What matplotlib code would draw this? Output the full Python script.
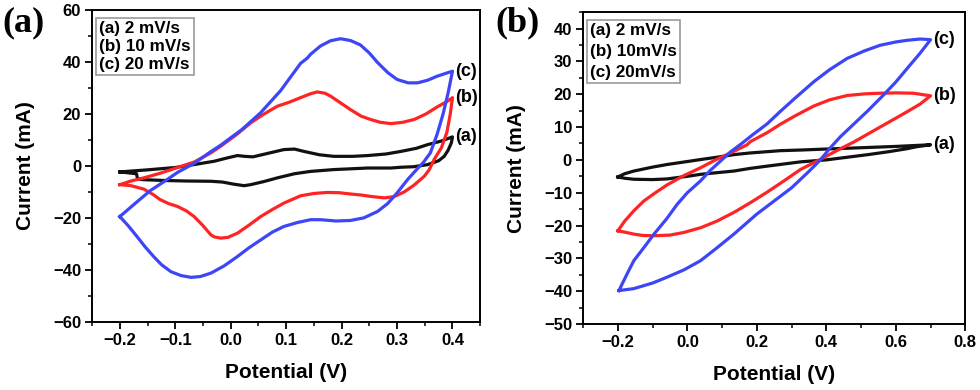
import matplotlib.pyplot as plt
from matplotlib.ticker import MultipleLocator

# ---- panel (a): CV at 2, 10, 20 mV/s ----
a_x_2 = [-0.2, -0.15, -0.1, -0.067, -0.03, -0.006, 0.012, 0.025, 0.04, 0.07, 0.096, 0.115, 0.132,
         0.16, 0.186, 0.22, 0.247, 0.28, 0.307, 0.335, 0.355, 0.38, 0.4,
         0.398, 0.392, 0.385, 0.375, 0.355, 0.33, 0.307, 0.289, 0.247, 0.186, 0.144, 0.115, 0.084,
         0.06, 0.036, 0.024, 0.005, -0.015, -0.036, -0.08, -0.12, -0.157, -0.168, -0.17, -0.2]
a_y_2 = [-2.3, -1.5, -0.6, 0.5, 1.8, 3.1, 4.0, 3.7, 3.5, 5.0, 6.3, 6.5, 5.6,
         4.3, 3.7, 3.7, 4.0, 4.6, 5.6, 6.8, 8.2, 9.6, 11.2,
         8.9, 6.0, 3.7, 2.0, 0.5, -0.3, -0.5, -0.8, -0.8, -1.4, -2.1, -3.0, -4.6,
         -6.0, -7.2, -7.6, -7.0, -6.2, -5.9, -5.8, -5.6, -5.3, -5.0, -3.0, -2.3]

a_x_10 = [-0.2, -0.18, -0.157, -0.127, -0.096, -0.066, -0.036, -0.018, 0.01, 0.036, 0.06, 0.084,
          0.105, 0.126, 0.144, 0.156, 0.17, 0.18, 0.2, 0.216, 0.235, 0.252, 0.27, 0.289, 0.31,
          0.331, 0.352, 0.373, 0.39, 0.4,
          0.396, 0.39, 0.38, 0.367, 0.358, 0.349, 0.33, 0.313, 0.295, 0.277, 0.255, 0.235, 0.216,
          0.195, 0.174, 0.15, 0.126, 0.096, 0.075, 0.054, 0.033, 0.012, -0.005, -0.018, -0.03,
          -0.036, -0.05, -0.066, -0.08, -0.096, -0.112, -0.127, -0.14, -0.157, -0.18, -0.2]
a_y_10 = [-7.2, -5.8, -4.6, -2.8, -0.6, 1.5, 5.0, 7.6, 12.0, 16.6, 20.0, 23.0,
          24.5, 26.3, 27.8, 28.5, 28.0, 26.9, 24.0, 21.7, 19.2, 17.9, 16.8, 16.3, 16.8,
          17.9, 20.0, 22.8, 24.8, 26.3,
          20.0, 13.0, 7.0, 2.5, -1.5, -4.0, -7.5, -10.0, -11.8, -12.3, -11.8, -11.2, -10.8,
          -10.3, -10.2, -10.6, -11.5, -14.3, -16.8, -19.5, -22.8, -25.9, -27.5, -27.8, -27.3,
          -26.5, -23.0, -19.5, -17.3, -15.6, -14.5, -13.0, -11.0, -8.9, -7.6, -7.2]

a_x_20 = [-0.2, -0.17, -0.145, -0.12, -0.096, -0.066, -0.036, -0.018, 0.02, 0.054, 0.09, 0.126,
          0.138, 0.144, 0.162, 0.18, 0.198, 0.216, 0.234, 0.25, 0.265, 0.283, 0.3, 0.32, 0.337,
          0.355, 0.373, 0.4,
          0.392, 0.383, 0.372, 0.36, 0.348, 0.337, 0.32, 0.3, 0.283, 0.265, 0.24, 0.216, 0.19,
          0.162, 0.144, 0.12, 0.096, 0.075, 0.054, 0.033, 0.012, -0.012, -0.036, -0.055, -0.072,
          -0.09, -0.108, -0.125, -0.139, -0.155, -0.169, -0.185, -0.2]
a_y_20 = [-19.5, -14.0, -9.5, -6.0, -2.5, 1.0, 5.5, 8.0, 14.0, 20.5, 29.0, 39.5,
          41.5, 43.0, 46.2, 48.2, 49.0, 48.3, 46.6, 43.5, 39.8, 36.0, 33.3, 32.0, 32.0,
          33.0, 34.6, 36.5,
          28.0, 20.0, 12.0, 5.0, 1.5, -1.0, -5.0, -10.4, -14.5, -17.5, -20.0, -21.0, -21.2,
          -20.7, -20.7, -21.8, -23.3, -25.5, -28.5, -31.5, -34.9, -38.5, -41.3, -42.6, -42.9,
          -42.2, -40.7, -38.0, -34.9, -31.0, -27.2, -23.0, -19.5]

# ---- panel (b) ----
b_x_2 = [-0.2, -0.18, -0.154, -0.1, -0.058, 0.0, 0.038, 0.085, 0.134, 0.18, 0.23, 0.267, 0.326,
         0.4, 0.5, 0.6, 0.7,
         0.66, 0.632, 0.58, 0.52, 0.46, 0.4, 0.326, 0.267, 0.23, 0.18, 0.134, 0.085, 0.038, 0.0,
         -0.058, -0.1, -0.154, -0.18, -0.2]
b_y_2 = [-5.2, -4.2, -3.4, -2.2, -1.4, -0.5, 0.1, 0.8, 1.6, 2.1, 2.5, 2.8, 3.0,
         3.3, 3.7, 4.1, 4.6,
         4.0, 3.4, 2.5, 1.6, 0.8, 0.0, -0.6, -1.4, -1.9, -2.6, -3.4, -3.9, -4.4, -5.0,
         -5.8, -6.0, -5.9, -5.6, -5.2]

b_x_10 = [-0.2, -0.18, -0.154, -0.125, -0.096, -0.058, -0.01, 0.038, 0.085, 0.134, 0.172, 0.182,
          0.23, 0.267, 0.31, 0.364, 0.41, 0.46, 0.51, 0.555, 0.6, 0.651, 0.7,
          0.67, 0.63, 0.58, 0.53, 0.48, 0.43, 0.38, 0.326, 0.278, 0.23, 0.182, 0.134, 0.086,
          0.04, -0.01, -0.05, -0.096, -0.13, -0.154, -0.18, -0.2]
b_y_10 = [-21.6, -18.6, -15.5, -12.5, -10.3, -7.6, -4.8, -2.4, 0.2, 2.6, 4.6, 5.6,
          8.3, 10.8, 13.4, 16.4, 18.3, 19.6, 20.1, 20.3, 20.4, 20.3, 19.5,
          17.0, 14.5, 11.5, 8.5, 5.5, 2.8, 0.0, -2.9, -6.4, -9.8, -13.0, -16.0, -18.6,
          -20.6, -22.1, -22.9, -23.1, -23.0, -22.6, -22.0, -21.6]

b_x_20 = [-0.197, -0.17, -0.154, -0.12, -0.096, -0.06, -0.029, 0.0, 0.038, 0.065, 0.095, 0.125,
          0.153, 0.19, 0.23, 0.267, 0.31, 0.364, 0.41, 0.46, 0.51, 0.555, 0.6, 0.632, 0.67, 0.7,
          0.67, 0.63, 0.6, 0.565, 0.52, 0.48, 0.44, 0.41, 0.383, 0.35, 0.3, 0.25, 0.2, 0.134,
          0.085, 0.038, -0.01, -0.058, -0.1, -0.154, -0.197]
b_y_20 = [-39.8, -34.0, -30.7, -26.0, -22.6, -18.0, -13.5, -10.0, -6.4, -3.3, -0.4, 2.5,
          4.7, 7.8, 11.0, 14.7, 18.8, 23.8, 27.5, 30.9, 33.2, 34.9, 35.9, 36.4, 36.8, 36.6,
          32.5, 27.5, 23.7, 19.8, 15.0, 11.0, 7.0, 3.5, 0.0, -3.5, -8.5, -12.5, -16.5, -22.6,
          -26.8, -30.7, -33.5, -35.7, -37.5, -39.2, -39.8]

legend_a = "(a) 2 mV/s\n(b) 10 mV/s\n(c) 20 mV/s"
legend_b = "(a) 2 mV/s\n(b) 10mV/s\n(c) 20mV/s"
curve_tags = ["(a)", "(b)", "(c)"]

c_black = "#111111"
c_red = "#ff2424"
c_blue = "#3d46f7"

plt.rcParams['font.family'] = ['Liberation Sans', 'DejaVu Sans']
plt.rcParams['font.weight'] = 'bold'

fig = plt.figure(figsize=(9.8, 3.9), dpi=100)
ax1 = fig.add_axes([0.094, 0.175, 0.396, 0.799])
ax2 = fig.add_axes([0.595, 0.169, 0.390, 0.800])


def style(ax):
    for s in ax.spines.values():
        s.set_linewidth(1.4)
    ax.tick_params(which='major', direction='out', length=5, width=1.3, labelsize=12,
                   top=False, right=False, pad=3)
    ax.tick_params(which='minor', direction='out', length=3, width=1.1, top=False, right=False)
    for lab in ax.get_xticklabels() + ax.get_yticklabels():
        lab.set_fontweight('bold')
    ax.set_xlabel("Potential (V)", fontsize=15, fontweight='bold', labelpad=11)
    ax.set_ylabel("Current (mA)", fontsize=15, fontweight='bold', labelpad=13)


lw = 2.3
ax1.plot(a_x_2, a_y_2, color=c_black, lw=lw)
ax1.plot(a_x_10, a_y_10, color=c_red, lw=lw)
ax1.plot(a_x_20, a_y_20, color=c_blue, lw=lw)
ax1.set_xlim(-0.25, 0.45)
ax1.set_ylim(-60, 60)
ax1.xaxis.set_major_locator(MultipleLocator(0.1))
ax1.xaxis.set_minor_locator(MultipleLocator(0.05))
ax1.yaxis.set_major_locator(MultipleLocator(20))
ax1.yaxis.set_minor_locator(MultipleLocator(10))
ax1.set_xticks([-0.2, -0.1, 0.0, 0.1, 0.2, 0.3, 0.4])
style(ax1)
for tag, yv in zip(curve_tags, [a_y_2[22], a_y_10[29], a_y_20[27]]):
    ax1.text(0.404, yv, tag, fontsize=13, fontweight='bold', ha='left', va='center')
ax1.text(0.018, 0.965, legend_a, transform=ax1.transAxes, fontsize=12.3, fontweight='bold',
         ha='left', va='top', linespacing=1.25,
         bbox=dict(boxstyle='square,pad=0.2', fc='white', ec='#9a9a9a', lw=1.2))

ax2.plot(b_x_2, b_y_2, color=c_black, lw=lw)
ax2.plot(b_x_10, b_y_10, color=c_red, lw=lw)
ax2.plot(b_x_20, b_y_20, color=c_blue, lw=lw)
ax2.set_xlim(-0.3, 0.8)
ax2.set_ylim(-50, 45)
ax2.xaxis.set_major_locator(MultipleLocator(0.2))
ax2.xaxis.set_minor_locator(MultipleLocator(0.1))
ax2.set_xticks([-0.2, 0.0, 0.2, 0.4, 0.6, 0.8])
ax2.yaxis.set_major_locator(MultipleLocator(10))
ax2.yaxis.set_minor_locator(MultipleLocator(5))
ax2.set_yticks(range(-50, 41, 10))
style(ax2)
for tag, yv in zip(curve_tags, [b_y_2[16], b_y_10[22], b_y_20[24]]):
    ax2.text(0.708, yv, tag, fontsize=13, fontweight='bold', ha='left', va='center')
ax2.text(0.018, 0.965, legend_b, transform=ax2.transAxes, fontsize=12.3, fontweight='bold',
         ha='left', va='top', linespacing=1.5,
         bbox=dict(boxstyle='square,pad=0.2', fc='white', ec='#9a9a9a', lw=1.2))

fig.text(0.002, 0.985, "(a)", fontsize=26, fontweight='bold', family='Liberation Serif',
         ha='left', va='top')
fig.text(0.505, 0.985, "(b)", fontsize=26, fontweight='bold', family='Liberation Serif',
         ha='left', va='top')

fig.savefig("out.png", dpi=100)
